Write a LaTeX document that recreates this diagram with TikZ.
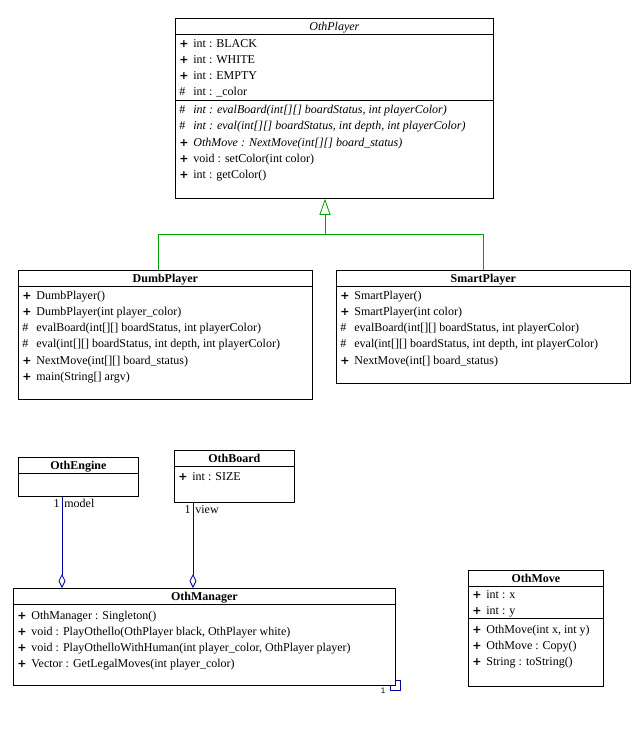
\documentclass[tikz,border=0pt]{standalone}
\usepackage{fontspec}
\setmainfont{Liberation Serif}
\setsansfont{Liberation Sans}
\newfontfamily\symfont{DejaVu Sans}
\usetikzlibrary{positioning, arrows.meta}
\definecolor{umlgreen}{HTML}{00A000}
\definecolor{umlblue}{HTML}{0000A0}
\newcommand{\umlfont}{\fontsize{12}{14}\selectfont}
\newcommand{\pub}{\makebox[14pt][l]{\symfont\bfseries\fontsize{11}{12}\selectfont +}}
\newcommand{\prot}{\makebox[14pt][l]{\#}}

\begin{document}
\begin{tikzpicture}[x=1pt, y=-1pt, line width=0.8pt, font=\umlfont,
    classbox/.style={draw, anchor=north west, inner sep=0pt},
    classname/.style={anchor=base, inner sep=0pt, font=\umlfont\bfseries},
    member/.style={anchor=base west, inner sep=0pt},
    inherit/.style={umlgreen},
    assoc/.style={umlblue},
    role/.style={inner sep=2pt}]
      \useasboundingbox (0,0) rectangle (643,729);

      % class boxes
      \node[classbox, minimum width=318, minimum height=180] (player) at (175,18) {};
      \node[classbox, minimum width=294, minimum height=129] (dumb) at (18,270) {};
      \node[classbox, minimum width=294, minimum height=113] (smart) at (336,270) {};
      \node[classbox, minimum width=120, minimum height=39] (engine) at (18,457) {};
      \node[classbox, minimum width=120, minimum height=52] (board) at (174,450) {};
      \node[classbox, minimum width=382, minimum height=97] (manager) at (13,588) {};
      \node[classbox, minimum width=135, minimum height=116] (move) at (468,570) {};

      % compartments
      \foreach \c in {player, dumb, smart, engine, board, manager, move}
      \draw ([yshift=-16pt]\c.north west) -- ([yshift=-16pt]\c.north east);
      \draw ([yshift=-82pt]player.north west) -- ([yshift=-82pt]player.north east);
      \draw ([yshift=-48pt]move.north west) -- ([yshift=-48pt]move.north east);

      % class names
      \node[classname, font=\umlfont\itshape] (playername) at ([yshift=-12pt]player.north) {OthPlayer};
      \node[classname] (dumbname) at ([yshift=-12pt]dumb.north) {DumbPlayer};
      \node[classname] (smartname) at ([yshift=-12pt]smart.north) {SmartPlayer};
      \node[classname] (enginename) at ([yshift=-12pt]engine.north) {OthEngine};
      \node[classname] (boardname) at ([yshift=-12pt]board.north) {OthBoard};
      \node[classname] (managername) at ([yshift=-12pt]manager.north) {OthManager};
      \node[classname] (movename) at ([yshift=-12pt]move.north) {OthMove};

      % members
      \foreach \y/\t in {47/{\pub int : BLACK}, 63/{\pub int : WHITE},
        79/{\pub int : EMPTY}, 95/{\prot int : \_color},
        113/{\prot\textit{int : evalBoard(int[][] boardStatus, int playerColor)}},
        129/{\prot\textit{int : eval(int[][] boardStatus, int depth, int playerColor)}},
        146/{\pub\textit{OthMove : NextMove(int[][] board\_status)}},
        162/{\pub void : setColor(int color)}, 178/{\pub int : getColor()}}
      \node[member] (player-\y) at (179,\y) {\t};

      \foreach \y/\t in {299/{\pub DumbPlayer()}, 315/{\pub DumbPlayer(int player\_color)},
        331/{\prot evalBoard(int[][] boardStatus, int playerColor)},
        347/{\prot eval(int[][] boardStatus, int depth, int playerColor)},
        364/{\pub NextMove(int[][] board\_status)}, 380/{\pub main(String[] argv)}}
      \node[member] (dumb-\y) at (22,\y) {\t};

      \foreach \y/\t in {299/{\pub SmartPlayer()}, 315/{\pub SmartPlayer(int color)},
        331/{\prot evalBoard(int[][] boardStatus, int playerColor)},
        347/{\prot eval(int[][] boardStatus, int depth, int playerColor)},
        364/{\pub NextMove(int[] board\_status)}}
      \node[member] (smart-\y) at (340,\y) {\t};

      \node[member] (board-480) at (178,480) {\pub int : SIZE};

      \foreach \y/\t in {619/{\pub OthManager : Singleton()},
        635/{\pub void : PlayOthello(OthPlayer black, OthPlayer white)},
        651/{\pub void : PlayOthelloWithHuman(int player\_color, OthPlayer player)},
        667/{\pub Vector : GetLegalMoves(int player\_color)}}
      \node[member] (manager-\y) at (17,\y) {\t};

      \foreach \y/\t in {598/{\pub int : x}, 614/{\pub int : y},
        633/{\pub OthMove(int x, int y)}, 649/{\pub OthMove : Copy()},
        665/{\pub String : toString()}}
      \node[member] (move-\y) at (472,\y) {\t};

      % generalization
      \coordinate (genjoint) at (325,234);
      \coordinate (dumbgen) at (158,0);
      \coordinate (smartgen) at (483,0);
      \draw[inherit] (dumb.north -| dumbgen) |- (genjoint);
      \draw[inherit] (smart.north -| smartgen) |- (genjoint);
      \draw[inherit, -{Triangle[open, length=16pt, width=11pt]}] (genjoint) -- (player.south -| genjoint);

      % associations
      \coordinate (modelx) at (62,0);
      \coordinate (viewx) at (193,0);
      \draw[assoc, -{Diamond[open, length=14pt, width=7pt]}] (engine.south -| modelx) -- (manager.north -| modelx);
      \draw[assoc, -{Diamond[open, length=14pt, width=7pt]}] (board.south -| viewx) -- (manager.north -| viewx);
      \node[role, anchor=north east] (modelmult) at (engine.south -| modelx) {1};
      \node[role, anchor=north west] (modelrole) at (engine.south -| modelx) {model};
      \node[role, anchor=north east] (viewmult) at (board.south -| viewx) {1};
      \node[role, anchor=north west] (viewrole) at (board.south -| viewx) {view};

      \draw[assoc] ([xshift=-5pt]manager.south east) -- ++(0,5) -- ++(10,0) -- ++(0,-10) -- ++(-5,0);
      \node[role, anchor=north east, font=\sffamily\fontsize{8}{9}\selectfont] (selfmult) at ([xshift=-8pt]manager.south east) {1};
    \end{tikzpicture}
\end{document}
